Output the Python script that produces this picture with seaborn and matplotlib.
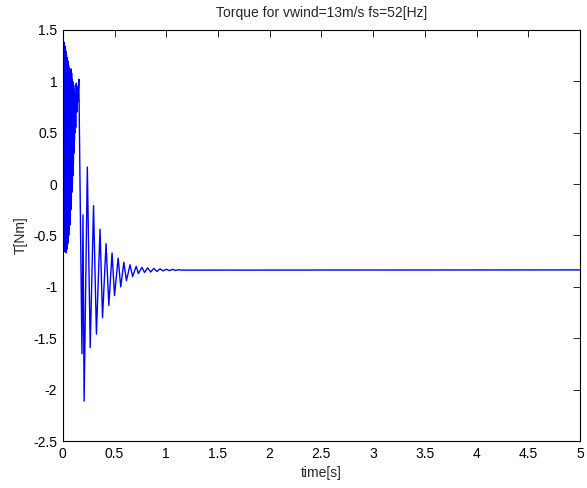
import matplotlib
matplotlib.use("Agg")
import matplotlib.pyplot as plt
import seaborn as sns
import pandas as pd

# time [s] and torque [Nm]
time_s = [0.0000, 0.0025, 0.0050, 0.0075, 0.0100, 0.0125, 0.0150, 0.0175, 0.0200, 0.0225,
          0.0250, 0.0275, 0.0300, 0.0325, 0.0350, 0.0375, 0.0400, 0.0425, 0.0450, 0.0475,
          0.0500, 0.0525, 0.0550, 0.0575, 0.0600, 0.0625, 0.0650, 0.0675, 0.0700, 0.0725,
          0.0750, 0.0775, 0.0800, 0.0825, 0.0850, 0.0875, 0.0900, 0.0925, 0.0950, 0.0975,
          0.1000, 0.1025, 0.1050, 0.1075, 0.1100, 0.1125, 0.1150, 0.1175, 0.1200, 0.1250,
          0.1300, 0.1350, 0.1400, 0.1450,
          0.155, 0.185, 0.195, 0.206, 0.237, 0.265, 0.297, 0.325, 0.360, 0.384,
          0.418, 0.445, 0.476, 0.500, 0.535, 0.560, 0.590, 0.615, 0.650, 0.675,
          0.710, 0.730, 0.765, 0.790, 0.820, 0.850, 0.880, 0.910, 0.940, 0.970,
          1.000, 1.030, 1.060, 1.090, 1.120, 1.150, 5.000]
torque = [1.42, -0.40, 1.40, -0.52, 1.38, -0.60, 1.36, -0.63, 1.34, -0.66,
          1.32, -0.65, 1.29, -0.67, 1.26, -0.64, 1.23, -0.62, 1.21, -0.58,
          1.19, -0.55, 1.16, -0.50, 1.13, -0.45, 1.10, -0.40, 1.07, -0.33,
          1.05, -0.25, 1.12, -0.15, 1.08, -0.08, 1.02, 0.00, 1.00, 0.08,
          0.98, 0.20, 0.96, 0.30, 0.92, 0.42, 0.88, 0.50, 0.80, 0.55,
          0.98, 0.70, 0.95, 0.80,
          1.02, -1.65, -0.30, -2.11, 0.165, -1.59, -0.21, -1.46, -0.44, -1.30,
          -0.58, -1.18, -0.67, -1.085, -0.72, -1.00, -0.76, -0.94, -0.785, -0.90,
          -0.80, -0.87, -0.81, -0.86, -0.815, -0.855, -0.82, -0.85, -0.825, -0.845,
          -0.828, -0.842, -0.83, -0.84, -0.833, -0.837, -0.835]

x_ticks = [0, 0.5, 1, 1.5, 2, 2.5, 3, 3.5, 4, 4.5, 5]
x_tick_labels = ["0", "0.5", "1", "1.5", "2", "2.5", "3", "3.5", "4", "4.5", "5"]
y_ticks = [-2.5, -2, -1.5, -1, -0.5, 0, 0.5, 1, 1.5]
y_tick_labels = ["-2.5", "-2", "-1.5", "-1", "-0.5", "0", "0.5", "1", "1.5"]

sns.set_style("white")
plt.rcParams["font.family"] = ["Liberation Sans", "DejaVu Sans"]

df = pd.DataFrame({"time": time_s, "torque": torque})

fig = plt.figure(figsize=(5.87, 4.88), dpi=100)
ax = fig.add_axes([0.107, 0.096, 0.881, 0.843])
sns.lineplot(data=df, x="time", y="torque", ax=ax, color="#0000ff",
             linewidth=1.0, estimator=None, sort=False)

ax.set_xlim(0, 5)
ax.set_ylim(-2.5, 1.5)
ax.set_xticks(x_ticks)
ax.set_xticklabels(x_tick_labels)
ax.set_yticks(y_ticks)
ax.set_yticklabels(y_tick_labels)
ax.tick_params(direction="in", top=True, right=True, length=5, width=0.6,
               labelsize=10, colors="black", pad=4)
for s in ax.spines.values():
    s.set_color("black")
    s.set_linewidth(0.8)
ax.set_xlabel("time[s]", fontsize=10, labelpad=4)
ax.set_ylabel("T[Nm]", fontsize=10, labelpad=4)
ax.set_title("Torque for vwind=13m/s fs=52[Hz]", fontsize=10, pad=9)

fig.savefig("out.png", dpi=100)
